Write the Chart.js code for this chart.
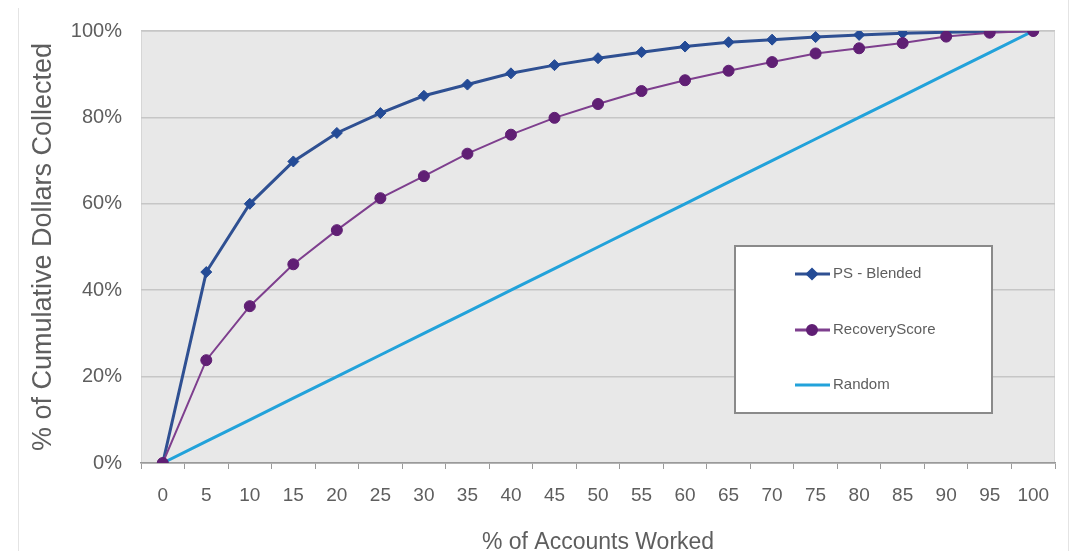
<!DOCTYPE html>
<html>
<head>
<meta charset="utf-8">
<script src="https://cdn.jsdelivr.net/npm/chart.js@4.4.1/dist/chart.umd.min.js"></script>
<style>
  html, body { margin: 0; padding: 0; background: #fff; }
  #wrap { position: relative; width: 1076px; height: 551px; }
  .edge { position: absolute; top: 8px; bottom: 0; width: 1px; background: #e4e4e4; }
</style>
</head>
<body>
<div id="wrap">
  <div class="edge" style="left:18px"></div>
  <div class="edge" style="left:1068px;top:0"></div>
  <canvas id="myChart" width="1076" height="551"></canvas>
</div>
<script>
// % of accounts worked
var labels = ['0','5','10','15','20','25','30','35','40','45','50','55','60','65','70','75','80','85','90','95','100'];
// % of cumulative dollars collected
var psBlended = [0, 44.2, 60, 69.8, 76.4, 81, 85, 87.6, 90.2, 92.1, 93.7, 95.1, 96.4, 97.4, 98, 98.6, 99.1, 99.5, 99.7, 99.9, 100];
var recoveryScore = [0, 23.8, 36.3, 46, 53.9, 61.3, 66.4, 71.6, 76, 79.9, 83.1, 86.1, 88.6, 90.8, 92.8, 94.8, 96, 97.2, 98.7, 99.6, 100];
var randomLine = [0, 5, 10, 15, 20, 25, 30, 35, 40, 45, 50, 55, 60, 65, 70, 75, 80, 85, 90, 95, 100];
var yTicks = [0, 20, 40, 60, 80, 100];

var grey = '#5e5e5e';

// grey plot background
var plotBg = {
  id: 'plotBg',
  beforeDraw: function (chart) {
    var a = chart.chartArea, ctx = chart.ctx;
    ctx.save();
    ctx.fillStyle = '#e8e8e8';
    ctx.fillRect(a.left, a.top, a.right - a.left, a.bottom - a.top);
    ctx.strokeStyle = '#d6d6d6';
    ctx.lineWidth = 1;
    ctx.strokeRect(a.left + 0.5, a.top + 0.5, a.right - a.left - 1, a.bottom - a.top);
    ctx.restore();
  }
};

// boxed legend inside the plot
var boxLegend = {
  id: 'boxLegend',
  afterDatasetsDraw: function (chart) {
    var a = chart.chartArea, ctx = chart.ctx;
    var x = a.left + 594, y = a.top + 215, w = 257, h = 167;
    ctx.save();
    ctx.fillStyle = '#ffffff';
    ctx.fillRect(x, y, w, h);
    ctx.strokeStyle = '#8a8a8a';
    ctx.lineWidth = 2;
    ctx.strokeRect(x, y, w, h);
    var rows = [28, 84, 139];
    var sets = [0, 1, 2];
    ctx.font = '15px "Liberation Sans", Arial, sans-serif';
    ctx.textBaseline = 'middle';
    sets.forEach(function (i, k) {
      var ds = chart.data.datasets[i];
      var ly = y + rows[k];
      ctx.strokeStyle = ds.borderColor;
      ctx.lineWidth = 3;
      ctx.beginPath();
      ctx.moveTo(x + 60, ly);
      ctx.lineTo(x + 95, ly);
      ctx.stroke();
      if (ds.pointRadius > 0) {
        ctx.fillStyle = ds.pointBackgroundColor;
        ctx.strokeStyle = ds.pointBackgroundColor;
        Chart.helpers.drawPoint(ctx, {pointStyle: ds.pointStyle, radius: ds.pointRadius - 1, rotation: 0, borderWidth: 1}, x + 77, ly);
      }
      ctx.fillStyle = grey;
      ctx.fillText(ds.label, x + 98, ly);
    });
    ctx.restore();
  }
};

var ctx = document.getElementById('myChart').getContext('2d');
var chart = new Chart(ctx, {
  type: 'line',
  data: {
    labels: labels,
    datasets: [{
      label: 'PS - Blended',
      data: psBlended,
      borderColor: '#2f5092',
      borderWidth: 3,
      pointStyle: 'rectRot',
      pointRadius: 5.5,
      pointBackgroundColor: '#244b96',
      pointBorderColor: '#244b96',
      pointBorderWidth: 1,
      tension: 0,
      order: 1
    }, {
      label: 'RecoveryScore',
      data: recoveryScore,
      borderColor: '#7e3f8e',
      borderWidth: 2,
      pointStyle: 'circle',
      pointRadius: 5.5,
      pointBackgroundColor: '#601f74',
      pointBorderColor: '#601f74',
      pointBorderWidth: 1,
      tension: 0,
      order: 0
    }, {
      label: 'Random',
      data: randomLine,
      borderColor: '#22a2da',
      borderWidth: 3,
      pointRadius: 0,
      tension: 0,
      order: 2
    }]
  },
  options: {
    responsive: false,
    animation: false,
    layout: { padding: { left: 0, top: 31, right: 21, bottom: 0 } },
    plugins: {
      legend: { display: false },
      tooltip: { enabled: false }
    },
    scales: {
      x: {
        type: 'category',
        offset: true,
        grid: { offset: true, drawOnChartArea: false, drawTicks: true, tickLength: 6, color: '#9a9a9a' },
        border: { color: '#9a9a9a', width: 1.5 },
        ticks: { color: grey, padding: 15, maxRotation: 0, autoSkip: false,
                 font: { family: '"Liberation Sans", Arial, sans-serif', size: 19 } },
        title: { display: true, text: '% of Accounts Worked', color: grey, padding: { top: 0, bottom: -3 },
                 font: { family: '"Liberation Sans", Arial, sans-serif', size: 23, lineHeight: 1 } },
        afterFit: function (s) { s.height = 88; }
      },
      y: {
        min: 0,
        max: 100,
        afterBuildTicks: function (s) { s.ticks = yTicks.map(function (v) { return { value: v }; }); },
        grid: { color: '#c6c6c6', lineWidth: 1.5, drawTicks: false },
        border: { display: false },
        ticks: { color: grey, padding: 19,
                 font: { family: '"Liberation Sans", Arial, sans-serif', size: 20 },
                 callback: function (v) { return v + '%'; } },
        title: { display: true, text: '% of Cumulative Dollars Collected', color: grey, padding: { top: 27, bottom: 0 },
                 font: { family: '"Liberation Sans", Arial, sans-serif', size: 27, lineHeight: 1.2 } },
        afterFit: function (s) { s.width = 141; }
      }
    }
  },
  plugins: [plotBg, boxLegend]
});
</script>
</body>
</html>
